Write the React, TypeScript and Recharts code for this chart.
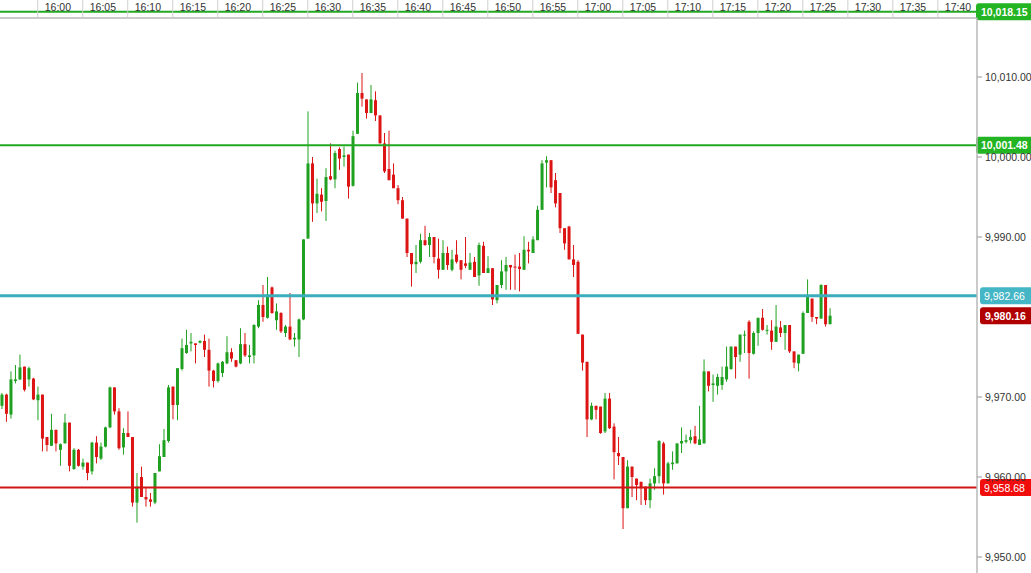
import { ComposedChart, Bar, XAxis, YAxis, ReferenceLine } from 'recharts';

// 30-second candles, first one at 15:56:00, last one at 17:28:00
const OPEN = [
  9968.9, 9970.3, 9967.8, 9972.0, 9972.2, 9973.8, 9972.2, 9972.3, 9969.6, 9970.3,
  9965.0, 9963.9, 9965.9, 9963.4, 9964.2, 9966.8, 9961.0, 9963.4, 9961.3, 9961.8,
  9960.7, 9964.3, 9962.3, 9963.8, 9966.2, 9971.2, 9968.2, 9963.7, 9965.5, 9965.0,
  9956.8, 9960.0, 9957.5, 9957.2, 9956.8, 9960.7, 9962.5, 9964.5, 9971.3, 9969.0,
  9973.5, 9975.5, 9976.7, 9976.7, 9976.8, 9977.0, 9975.9, 9973.3, 9972.0, 9973.0,
  9974.2, 9975.6, 9974.6, 9974.2, 9976.6, 9975.0, 9975.2, 9978.8, 9981.5, 9979.9,
  9983.7, 9979.6, 9980.5, 9978.0, 9978.8, 9977.2, 9977.2, 9979.7, 9989.8, 9999.2,
  9994.2, 9995.3, 9994.5, 9997.6, 9997.2, 10001.0, 10000.0, 10000.3, 9996.4, 10002.9,
  10008.0, 10007.2, 10005.5, 10007.1, 10005.2, 10001.7, 9998.5, 9997.8, 9996.1, 9994.6,
  9992.3, 9988.0, 9986.6, 9986.9, 9989.6, 9989.0, 9990.0, 9987.3, 9985.9, 9988.0,
  9985.9, 9987.8, 9987.1, 9986.7, 9985.9, 9986.9, 9985.2, 9988.9, 9985.5, 9986.1,
  9982.1, 9984.0, 9985.7, 9986.5, 9986.3, 9986.3, 9985.9, 9988.4, 9988.0, 9989.6,
  9993.4, 9999.3, 9999.6, 9997.1, 9995.5, 9991.1, 9991.3, 9987.2, 9986.9, 9977.8,
  9974.4, 9967.2, 9968.9, 9968.8, 9965.7, 9969.8, 9966.3, 9963.0, 9962.5, 9956.1,
  9961.3, 9959.8, 9959.4, 9958.8, 9957.1, 9959.2, 9960.1, 9964.2, 9959.2, 9961.6,
  9961.7, 9964.2, 9964.4, 9964.6, 9965.1, 9964.0, 9964.2, 9973.2, 9971.5, 9971.4,
  9971.5, 9972.2, 9973.5, 9976.3, 9975.3, 9977.7, 9979.4, 9975.4, 9978.0, 9979.9,
  9978.3, 9978.3, 9976.9, 9978.7, 9978.0, 9979.0, 9975.7, 9974.2, 9975.4, 9980.5,
  9982.3, 9980.0, 9979.8, 9984.0, 9979.1,
];

const HIGH = [
  9970.5, 9970.4, 9973.2, 9974.0, 9975.3, 9973.8, 9973.8, 9972.4, 9971.3, 9970.3,
  9965.0, 9967.9, 9965.9, 9964.2, 9967.9, 9966.8, 9963.6, 9963.5, 9962.3, 9961.8,
  9964.4, 9965.1, 9964.3, 9966.3, 9971.3, 9971.2, 9968.6, 9966.1, 9968.2, 9965.0,
  9960.5, 9961.3, 9958.6, 9958.0, 9960.5, 9964.1, 9966.0, 9971.5, 9971.3, 9973.6,
  9977.3, 9978.4, 9978.0, 9976.7, 9977.1, 9977.8, 9977.3, 9973.4, 9974.3, 9974.5,
  9977.6, 9976.1, 9974.6, 9978.6, 9978.0, 9976.5, 9979.1, 9982.1, 9984.0, 9985.0,
  9983.8, 9981.7, 9980.6, 9979.0, 9983.0, 9978.0, 9979.8, 9989.7, 10005.7, 10000.0,
  9997.3, 9996.1, 9998.6, 10001.7, 10000.8, 10001.2, 10001.3, 10000.3, 10003.3, 10009.3,
  10010.5, 10007.2, 10009.0, 10008.2, 10005.2, 10003.0, 10003.3, 9999.2, 9996.5, 9995.0,
  9992.3, 9988.0, 9989.0, 9990.4, 9991.4, 9990.5, 9990.0, 9989.8, 9989.6, 9988.8,
  9988.4, 9989.6, 9987.1, 9990.0, 9988.0, 9987.5, 9989.3, 9989.4, 9987.6, 9986.1,
  9984.0, 9987.1, 9987.5, 9986.5, 9987.8, 9988.0, 9990.1, 9989.4, 9990.1, 9993.9,
  9999.6, 10000.1, 9999.6, 9998.0, 9995.5, 9991.1, 9991.4, 9989.0, 9987.1, 9977.8,
  9974.4, 9969.3, 9968.9, 9968.8, 9970.5, 9970.5, 9966.7, 9965.0, 9962.5, 9962.1,
  9961.3, 9959.8, 9959.4, 9958.8, 9959.8, 9961.1, 9964.6, 9964.4, 9961.9, 9963.2,
  9964.2, 9966.2, 9965.3, 9965.9, 9966.4, 9968.9, 9974.7, 9973.2, 9972.8, 9972.9,
  9973.8, 9976.3, 9976.3, 9976.3, 9977.8, 9978.3, 9979.6, 9978.2, 9979.9, 9981.0,
  9979.0, 9979.6, 9981.5, 9979.5, 9979.0, 9979.0, 9975.7, 9975.3, 9980.7, 9984.7,
  9982.3, 9980.0, 9984.1, 9984.0, 9981.1,
];

const LOW = [
  9968.5, 9966.9, 9967.3, 9971.7, 9972.1, 9970.7, 9971.3, 9969.6, 9967.1, 9963.2,
  9963.2, 9963.9, 9963.2, 9961.4, 9964.2, 9960.7, 9960.9, 9961.3, 9960.9, 9959.6,
  9960.3, 9961.7, 9962.1, 9963.7, 9966.1, 9967.8, 9963.4, 9962.8, 9965.0, 9956.3,
  9954.3, 9957.5, 9956.3, 9956.3, 9956.6, 9960.7, 9962.5, 9964.3, 9967.2, 9967.1,
  9973.3, 9975.4, 9975.7, 9974.2, 9976.7, 9975.0, 9971.3, 9971.2, 9971.8, 9972.5,
  9974.1, 9974.4, 9973.7, 9974.1, 9975.0, 9974.2, 9974.2, 9978.6, 9979.4, 9979.8,
  9980.4, 9978.4, 9978.0, 9977.5, 9977.1, 9976.3, 9975.0, 9979.6, 9989.8, 9991.9,
  9993.0, 9993.2, 9992.0, 9997.1, 9996.1, 9998.4, 9998.8, 9994.8, 9996.3, 10002.9,
  10006.3, 10004.8, 10005.5, 10004.5, 10001.7, 9998.0, 9997.1, 9996.1, 9994.1, 9992.3,
  9987.5, 9983.8, 9985.5, 9986.7, 9988.9, 9987.5, 9986.7, 9984.8, 9985.9, 9985.9,
  9985.7, 9986.7, 9984.7, 9986.1, 9985.9, 9985.0, 9983.9, 9985.5, 9985.5, 9981.5,
  9981.7, 9983.6, 9983.4, 9983.4, 9983.4, 9983.2, 9985.9, 9986.7, 9988.0, 9989.6,
  9993.4, 9996.2, 9995.5, 9993.7, 9990.5, 9988.4, 9987.2, 9985.0, 9977.9, 9973.3,
  9965.0, 9967.1, 9967.2, 9965.4, 9965.5, 9966.0, 9959.7, 9961.5, 9953.5, 9956.1,
  9957.5, 9957.1, 9956.5, 9956.5, 9956.1, 9958.4, 9959.2, 9957.8, 9959.2, 9960.9,
  9961.7, 9963.0, 9964.2, 9964.2, 9964.1, 9964.0, 9964.2, 9970.7, 9969.4, 9970.3,
  9970.9, 9971.9, 9973.4, 9972.3, 9974.4, 9975.5, 9972.3, 9975.3, 9976.4, 9978.3,
  9977.8, 9975.9, 9976.9, 9977.5, 9975.9, 9975.5, 9973.6, 9973.2, 9975.4, 9980.5,
  9979.4, 9979.1, 9979.8, 9978.8, 9979.1,
];

const CLOSE = [
  9970.3, 9967.9, 9972.2, 9972.2, 9973.7, 9970.9, 9973.6, 9969.7, 9970.3, 9964.8,
  9964.0, 9965.9, 9964.2, 9964.1, 9966.8, 9961.4, 9963.4, 9961.4, 9961.8, 9960.5,
  9964.3, 9962.5, 9963.8, 9966.2, 9971.2, 9968.2, 9963.6, 9965.5, 9965.0, 9956.8,
  9958.8, 9957.5, 9957.2, 9956.9, 9960.5, 9962.6, 9964.6, 9971.2, 9969.0, 9973.6,
  9976.1, 9976.5, 9976.9, 9976.5, 9977.0, 9975.9, 9973.3, 9972.0, 9974.2, 9974.4,
  9975.6, 9974.8, 9973.8, 9976.6, 9975.2, 9975.2, 9979.0, 9981.5, 9980.0, 9982.8,
  9980.5, 9980.7, 9978.2, 9978.8, 9977.2, 9977.4, 9979.7, 9989.7, 9999.2, 9994.2,
  9995.4, 9994.4, 9997.5, 9997.2, 10000.5, 9999.8, 10000.2, 9996.3, 10002.6, 10008.0,
  10007.3, 10005.5, 10007.2, 10005.2, 10001.7, 9998.2, 9997.1, 9996.1, 9994.6, 9992.3,
  9988.0, 9986.6, 9986.9, 9989.6, 9989.0, 9990.0, 9987.5, 9985.9, 9988.0, 9986.5,
  9987.2, 9986.9, 9985.9, 9986.4, 9986.8, 9985.0, 9989.0, 9985.5, 9986.1, 9982.2,
  9984.0, 9985.7, 9986.5, 9986.2, 9986.2, 9986.0, 9988.4, 9988.2, 9989.7, 9993.4,
  9999.2, 9999.6, 9996.2, 9994.2, 9991.1, 9989.2, 9987.2, 9986.5, 9977.9, 9974.3,
  9967.2, 9968.9, 9968.4, 9965.5, 9969.8, 9966.1, 9963.1, 9962.6, 9956.1, 9961.3,
  9960.0, 9959.0, 9958.6, 9957.1, 9959.2, 9960.1, 9964.5, 9959.2, 9961.7, 9961.8,
  9964.2, 9964.5, 9964.6, 9965.0, 9964.2, 9964.7, 9973.2, 9971.4, 9971.7, 9972.5,
  9972.5, 9973.8, 9976.3, 9975.0, 9977.8, 9977.8, 9975.5, 9978.0, 9979.9, 9978.4,
  9978.4, 9976.9, 9978.8, 9978.0, 9979.0, 9975.7, 9974.3, 9975.3, 9980.5, 9982.5,
  9980.0, 9979.8, 9984.0, 9979.1, 9980.16,
];

const TIME_LABELS = [
  '16:00', '16:05', '16:10', '16:15', '16:20', '16:25', '16:30', '16:35', '16:40',
  '16:45', '16:50', '16:55', '17:00', '17:05', '17:10', '17:15', '17:20', '17:25',
  '17:30', '17:35', '17:40',
];
const FIRST_TICK = 8; // candle index of 16:00
const CANDLES_PER_TICK = 10; // 5 minutes of 30s candles

// 9,980.00 sits under the last-price tag, so it is not drawn
const Y_TICKS = [9950, 9960, 9970, 9990, 10000, 10010];

const LEVELS = [
  { value: 10018.15, line: '#23a823', tag: '#22b422', bold: true, width: 2 },
  { value: 10001.48, line: '#23a823', tag: '#22b422', bold: true, width: 2 },
  { value: 9982.66, line: '#3aaebd', tag: '#45b6c5', bold: false, width: 3 },
  { value: 9958.68, line: '#d21515', tag: '#f20d0d', bold: false, width: 2 },
];

const UP = '#20a020';
const DOWN = '#dc1414';
const FONT = '"Liberation Sans", Arial, sans-serif';

const data = OPEN.map((open, i) => ({
  i,
  open,
  high: HIGH[i],
  low: LOW[i],
  close: CLOSE[i],
  range: [LOW[i], HIGH[i]],
}));

const LAST_PRICE = CLOSE[CLOSE.length - 1];

const fmt = (v: number) =>
  v.toLocaleString('en-US', { minimumFractionDigits: 2, maximumFractionDigits: 2 });

function Candle(props: any) {
  const { x, y, width, height, payload } = props;
  if (!payload) return null;
  const { open, close, high, low } = payload;
  const color = close >= open ? UP : DOWN;
  const top = Math.min(y, y + height);
  const h = Math.abs(height);
  const k = high > low ? h / (high - low) : 0;
  const cx = x + width / 2;
  const bTop = top + (high - Math.max(open, close)) * k;
  const bBot = top + (high - Math.min(open, close)) * k;
  return (
    <g>
      <line x1={cx} x2={cx} y1={top} y2={top + Math.max(h, 1)} stroke={color} strokeWidth={1} />
      <rect x={cx - 1.5} y={bTop} width={3} height={Math.max(1, bBot - bTop)} fill={color} />
    </g>
  );
}

function TimeTick(props: any) {
  const { x, payload } = props;
  const label = TIME_LABELS[Math.round((payload.value - FIRST_TICK) / CANDLES_PER_TICK)];
  return (
    <g>
      <line x1={x} x2={x} y1={0} y2={18} stroke="#cfcfcf" strokeWidth={1} />
      <text x={x + 7} y={10.5} fill="#333" fontSize={10.5} fontFamily={FONT}>
        {label}
      </text>
    </g>
  );
}

function makeTag(value: number, color: string, bold: boolean, shift: number) {
  return (props: any) => {
    const vb = props.viewBox || {};
    const right = (vb.x ?? 0) + (vb.width ?? 977);
    const cy = vb.y ?? 0;
    const rx = right + shift;
    return (
      <g>
        <rect x={rx} y={cy - 8.5} width={62} height={17} rx={3} ry={3} fill={color} />
        <text
          x={rx + (bold ? 5 : 4)}
          y={cy + 4}
          fill="#fff"
          fontSize={10.5}
          fontWeight={bold ? 'bold' : 'normal'}
          fontFamily={FONT}
        >
          {fmt(value)}
        </text>
      </g>
    );
  };
}

export default function App() {
  return (
    <div style={{ position: 'absolute', left: 0, top: 0, background: '#fff' }}>
      <ComposedChart
        width={1031}
        height={573}
        data={data}
        margin={{ top: 0, right: 0, bottom: 0, left: 0 }}
      >
        <XAxis
          dataKey="i"
          type="number"
          orientation="top"
          height={18}
          domain={[-0.38, 216.7]}
          allowDataOverflow
          ticks={TIME_LABELS.map((_, k) => FIRST_TICK + k * CANDLES_PER_TICK)}
          interval={0}
          tick={<TimeTick />}
          tickLine={false}
          axisLine={{ stroke: '#b9b9b9', strokeWidth: 1.5 }}
        />
        <YAxis
          orientation="right"
          width={54}
          domain={[9948, 10017.375]}
          allowDataOverflow
          ticks={Y_TICKS}
          interval={0}
          tickFormatter={fmt}
          tick={{ fill: '#333', fontSize: 10.5, fontFamily: FONT }}
          tickSize={5}
          tickMargin={3}
          tickLine={{ stroke: '#999' }}
          axisLine={{ stroke: '#b9b9b9', strokeWidth: 1.5 }}
        />
        <Bar
          dataKey="range"
          barSize={3}
          shape={<Candle />}
          isAnimationActive={false}
        />
        {LEVELS.map((lv) => (
          <ReferenceLine
            key={lv.value}
            y={lv.value}
            stroke={lv.line}
            strokeWidth={lv.width}
            ifOverflow="visible"
            label={makeTag(lv.value, lv.tag, lv.bold, lv.bold ? -1 : 3)}
          />
        ))}
        <ReferenceLine
          y={LAST_PRICE}
          stroke="none"
          ifOverflow="visible"
          label={makeTag(LAST_PRICE, '#b00000', true, 3)}
        />
      </ComposedChart>
    </div>
  );
}
